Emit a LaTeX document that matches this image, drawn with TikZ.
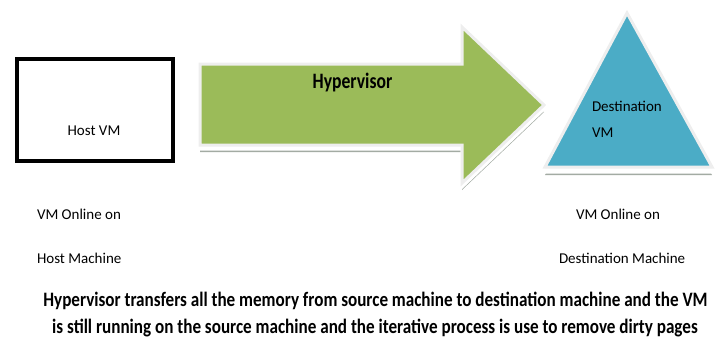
\documentclass[tikz,border=0pt]{standalone}
\usepackage{fontspec}
\setmainfont{Carlito}
\usetikzlibrary{positioning}

\definecolor{arrowgreen}{HTML}{9BBB59}
\definecolor{destblue}{HTML}{4BACC6}
\definecolor{bevel}{HTML}{EEEEEE}
\definecolor{shadowgray}{HTML}{A3ABA3}

\tikzset{
  every node/.style={inner sep=0pt, outer sep=0pt},
  label/.style={font=\fontsize{15}{18}\selectfont, anchor=base west},
  caption/.style={font=\bfseries\fontsize{20.5}{24}\selectfont, anchor=base},
  hostbox/.style={draw=black, line width=4pt, fill=white},
  shapeshadow/.style={fill=shadowgray},
  shapemask/.style={fill=white, draw=white, line width=3pt, line join=miter},
  shapebody/.style={draw=bevel, line width=3pt, line join=miter},
}

\begin{document}
\begin{tikzpicture}[x=1pt, y=-1pt]
  \useasboundingbox (0,0) rectangle (726,340);

  % source machine
  \draw[hostbox] (17,59.3) rectangle (173,161.3);
  \node[label, anchor=base] (hostvm) at (94,135) {Host VM};

  % big transfer arrow: shadow, white gap, body
  \def\arrowpath{(200,64) -- (462,64) -- (462,27) -- (544,105) -- (462,183) -- (462,145) -- (200,145) -- cycle}
  \fill[shapeshadow, yshift=-7pt] \arrowpath;
  \filldraw[shapemask, yshift=-4pt] \arrowpath;
  \filldraw[shapebody, fill=arrowgreen] \arrowpath;
  \node[font=\bfseries\fontsize{22}{24}\selectfont, anchor=base] (hyper) at (352.5,88)
    {\scalebox{0.80}[1]{Hypervisor}};

  % destination machine
  \def\tripath{(627,13) -- (712,167) -- (545,167) -- cycle}
  \fill[shapeshadow, yshift=-8pt] \tripath;
  \filldraw[shapemask, yshift=-5pt] \tripath;
  \filldraw[shapebody, fill=destblue] \tripath;
  \node[label] (destname) at (592,111) {Destination};
  \node[label] (destvm) at (592,137) {VM};

  % status labels
  \node[label] (hoston) at (37,219) {VM Online on};
  \node[label] (hostmach) at (37,263) {Host Machine};
  \node[label] (deston) at (576,219) {VM Online on};
  \node[label] (destmach) at (559,263) {Destination Machine};

  % description
  \node[caption] (desc1) at (375.5,306)
    {\scalebox{0.835}[1]{Hypervisor transfers all the memory from source machine to destination machine and the VM}};
  \node[caption] (desc2) at (375,333)
    {\scalebox{0.835}[1]{is still running on the source machine and the iterative process is use to remove dirty pages}};
\end{tikzpicture}
\end{document}
